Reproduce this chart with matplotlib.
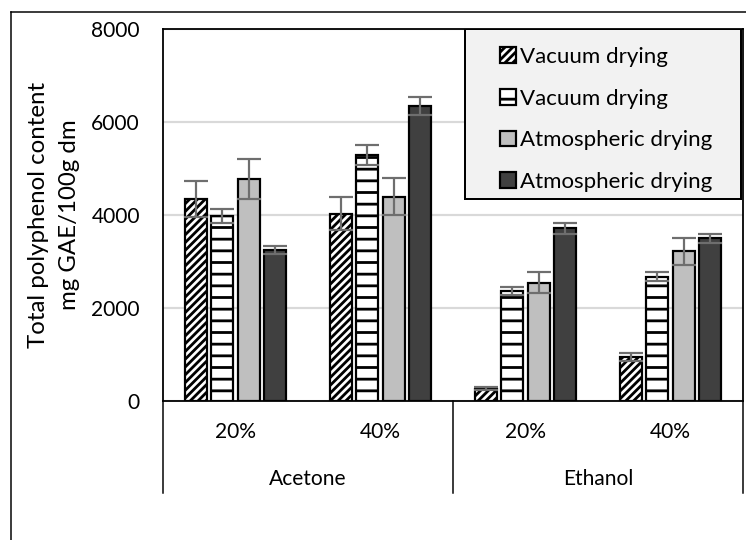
import matplotlib
matplotlib.use("Agg")
import matplotlib.pyplot as plt
from matplotlib.lines import Line2D
from matplotlib.patches import Rectangle
import numpy as np

DPI = 70
W, H = 746, 540


def pt(px):
    """Convert pixels to points at the chosen dpi."""
    return px * 72.0 / DPI


# ---- data ----
sub_labels = ['20%', '40%', '20%', '40%']
solvents = ['Acetone', 'Ethanol']
series_labels = ['Vacuum drying', 'Vacuum drying', 'Atmospheric drying', 'Atmospheric drying']

vacuum_1 = [4340, 4030, 265, 946]
vacuum_1_err = [390, 350, 30, 80]
vacuum_2 = [3980, 5290, 2360, 2670]
vacuum_2_err = [150, 215, 90, 100]
atmos_1 = [4770, 4390, 2545, 3220]
atmos_1_err = [430, 400, 230, 285]
atmos_2 = [3250, 6350, 3710, 3500]
atmos_2_err = [80, 190, 110, 100]

y_ticks = [0, 2000, 4000, 6000, 8000]

# ---- style ----
plt.rcParams['font.family'] = ['Lato', 'DejaVu Sans']
plt.rcParams['hatch.linewidth'] = pt(2.8)
plt.rcParams['hatch.color'] = 'black'

series = [
    (vacuum_1, vacuum_1_err, dict(facecolor='white', hatch='///')),
    (vacuum_2, vacuum_2_err, dict(facecolor='white', hatch='-')),
    (atmos_1, atmos_1_err, dict(facecolor='#bfbfbf')),
    (atmos_2, atmos_2_err, dict(facecolor='#404040')),
]

fig = plt.figure(figsize=(W / DPI, H / DPI), dpi=DPI)
ax = fig.add_axes([163 / W, 1 - 401 / H, 580 / W, 372 / H])

x = np.arange(len(sub_labels))
bar_w = 0.152
pitch = 0.183
for i, (vals, errs, style) in enumerate(series):
    pos = x + (i - 1.5) * pitch
    ax.bar(pos, vals, width=bar_w, edgecolor='black', linewidth=pt(2.2),
           label=series_labels[i], zorder=2, **style)
    ax.errorbar(pos, vals, yerr=errs, fmt='none', ecolor='#6e6e6e',
                elinewidth=pt(2.2), capsize=pt(12), capthick=pt(2.2), zorder=3)

ax.set_xlim(-0.5, 3.5)
ax.set_ylim(0, 8000)
ax.set_yticks(y_ticks)
ax.yaxis.grid(True, color='#d9d9d9', linewidth=pt(2.2))
ax.set_axisbelow(True)
ax.tick_params(axis='y', length=0, pad=pt(23), labelsize=pt(21))
ax.set_xticks(x, sub_labels)
ax.tick_params(axis='x', length=0, pad=pt(21), labelsize=pt(21))
for sp in ax.spines.values():
    sp.set_color('black')
    sp.set_linewidth(pt(1.8))

# two-level category axis
sep_depth = 92 / 372
for xs in [-0.5, 1.5, 3.5]:
    ax.plot([xs, xs], [0, -sep_depth], color='black', lw=pt(1.5),
            transform=ax.get_xaxis_transform(), clip_on=False)
for j, name in enumerate(solvents):
    ax.text(2 * j + 0.5, -78 / 372, name, transform=ax.get_xaxis_transform(),
            ha='center', va='center', fontsize=pt(21))

fig.text(54 / W, 1 - 215 / H, 'Total polyphenol content\nmg GAE/100g dm',
         rotation=90, ha='center', va='center', fontsize=pt(24),
         linespacing=1.6, multialignment='center')

# legend box
box = Rectangle(((465 - 163) / 580, (401 - 199) / 372), (741 - 465) / 580, 170 / 372,
                transform=ax.transAxes, facecolor='#f2f2f2', edgecolor='black',
                linewidth=pt(2), zorder=4)
ax.add_patch(box)
leg = ax.legend(loc='upper left', bbox_to_anchor=((500 - 163) / 580, 1 - 18 / 372),
                frameon=False, fontsize=pt(22.2), handlelength=0.7, handleheight=0.7,
                handletextpad=0.2, labelspacing=0.97, borderaxespad=0, borderpad=0)
leg.set_zorder(5)

# outer chart border (partially visible in the crop)
fig.add_artist(Line2D([10.5 / W, 10.5 / W], [0, 1 - 11.5 / H], color='black',
                      lw=pt(1.5), transform=fig.transFigure))
fig.add_artist(Line2D([10.5 / W, 1], [1 - 11.5 / H, 1 - 11.5 / H], color='black',
                      lw=pt(1.5), transform=fig.transFigure))

fig.savefig('out.png', dpi=DPI)
